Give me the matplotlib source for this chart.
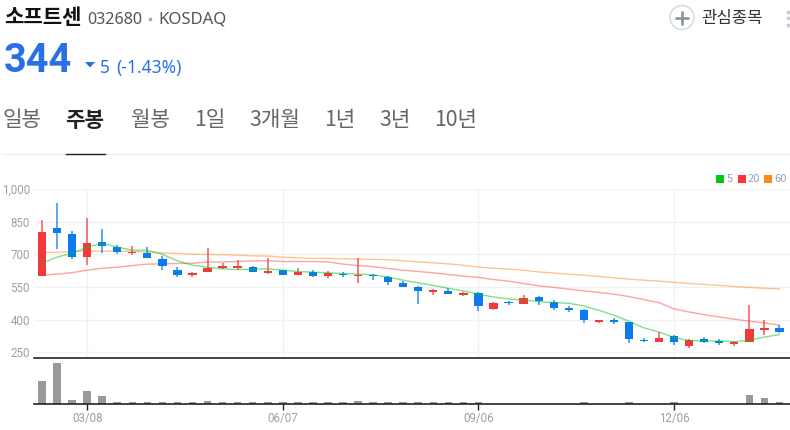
# weekly candle chart with header
import numpy as np
import matplotlib
matplotlib.use('Agg')
import matplotlib.pyplot as plt
from matplotlib.patches import Circle

plt.rcParams['font.family'] = ['Noto Sans CJK KR', 'DejaVu Sans']

open_p = [600,819,793,688,756,732,707,705,680,630,606,617,638,638,640,615,628,607,621,601,610,600,607,598,569,549,529,531,515,523,
          449,481,472,506,483,452,446,391,400,388,308,299,327,278,310,304,288,299,353,362]
close_p = [802,796,688,750,737,709,711,684,645,607,612,636,645,645,617,622,607,621,600,615,606,604,601,571,551,531,535,518,521,462,
           475,477,498,485,454,445,399,397,388,311,301,316,295,308,299,293,297,359,360,344]
high_p = [857,937,806,868,816,745,737,732,693,640,621,730,658,676,645,684,630,636,627,622,618,684,610,600,577,554,540,546,528,528,
          480,485,515,508,492,461,448,400,408,390,316,345,330,312,319,310,300,466,400,377]
low_p = [600,724,680,650,707,700,697,684,630,596,596,617,632,630,617,609,604,606,596,590,596,569,584,560,551,471,514,518,507,438,
         443,468,470,468,446,433,385,385,379,291,296,299,284,268,293,282,278,295,331,340]

ma5 = [659,687,705,733,751,733,719,718,700,670,650,641,633,630,632,633,627,621,618,615,612,609,606,596,581,569,557,544,532,517,
       504,495,490,483,478,475,463,443,420,393,362,343,318,304,302,302,299,305,320,331]
ma20 = [604,609,616,627,636,641,648,655,656,658,659,664,665,667,670,670,667,667,667,665,655,648,643,635,627,621,615,607,600,594,
        584,577,566,555,548,540,532,525,517,506,492,478,449,435,423,412,402,393,385,374]
ma60 = [709,709,712,715,715,715,713,710,707,704,700,700,698,696,693,692,687,684,681,681,679,678,677,675,670,665,661,656,650,641,
        636,632,627,619,614,609,604,598,592,586,581,577,571,566,561,557,552,548,544,541]

volume = [23,41,4.5,13,8,2.5,2.5,2.5,2,2,2,3.5,2,2,2,2.5,2,2,2,2,2,3.5,2,2.5,2,2,2,2,2,2,
          0,0,0,0,0,0,2,0,0,2,0,0,2,0,0,0,0,9,6,2.5]

price_ticks = [250,400,550,700,850,1000]
price_labels = ['250','400','550','700','850','1,000']
date_pos = [3,16,29,42]
date_labels = ['03/08','06/07','09/06','12/06']

tabs = ['일봉','주봉','월봉','1일','3개월','1년','3년','10년']
tab_x = [2.5,65.5,131,194,249,324,379,434.5]

RED = '#f23a3a'
BLUE = '#0a7cf0'
GREY = '#9aa0a8'

fig = plt.figure(figsize=(7.9,4.3), dpi=100)
W, H = 790.0, 430.0

# price panel
ax = fig.add_axes([34/W, 1-357.5/H, (W-34)/W, (357.5-189)/H])
x = np.arange(len(open_p))
for i in x:
    up = close_p[i] >= open_p[i]
    c = RED if up else BLUE
    ax.vlines(i, low_p[i], high_p[i], color=c, lw=1.1, zorder=3, alpha=0.85)
    ax.bar(i, abs(close_p[i]-open_p[i]), bottom=min(open_p[i],close_p[i]), width=0.55, color=c, zorder=3)
ax.plot(x, ma5, color='#00c416', lw=1, alpha=0.5, zorder=4)
ax.plot(x, ma20, color='#ff3333', lw=1, alpha=0.45, zorder=2)
ax.plot(x, ma60, color='#ff8a1a', lw=1, alpha=0.5, zorder=2)
ax.set_xlim(-0.53,49.7)
ax.set_ylim(226,1000)
ax.set_yticks(price_ticks)
ax.set_yticklabels(price_labels, color=GREY, fontsize=8.3, family=['Roboto','DejaVu Sans'])
ax.set_xticks(date_pos)
ax.set_xticklabels([])
ax.tick_params(length=0, pad=3)
ax.grid(True, color='#f0f1f3', lw=1)
ax.set_axisbelow(True)
for s in ax.spines.values():
    s.set_visible(False)
ax.spines['bottom'].set_visible(True)
ax.spines['bottom'].set_color('#222222')
ax.spines['bottom'].set_linewidth(1.2)

# volume panel
vax = fig.add_axes([34/W, 1-404/H, (W-34)/W, (404-357.5)/H])
vax.bar(x, volume, width=0.5, color='#999999')
vax.set_xlim(-0.53,49.7)
vax.set_ylim(0,46.5)
vax.set_yticks([])
vax.set_xticks(date_pos)
vax.set_xticklabels(date_labels, color=GREY, fontsize=8.3, family=['Roboto','DejaVu Sans'])
vax.tick_params(axis='x', length=4, width=1, color='#222222', pad=2)
vax.patch.set_alpha(0)
for s in ['top','left','right']:
    vax.spines[s].set_visible(False)
vax.spines['bottom'].set_color('#222222')
vax.spines['bottom'].set_linewidth(1.2)

# header drawn on an overlay in pixel coords
top = fig.add_axes([0,0,1,1])
top.set_xlim(0,W)
top.set_ylim(H,0)
top.axis('off')
top.patch.set_alpha(0)

top.text(4,18,'소프트센',fontsize=15.2,fontweight='bold',color='#111111',va='center')
top.text(87,20,'032680',fontsize=11.6,color='#555555',va='center',family=['Noto Sans','DejaVu Sans'])
top.plot([150],[19],marker='s',ms=2,color='#aaaaaa')
top.text(158,20,'KOSDAQ',fontsize=12,color='#555555',va='center',family=['Noto Sans','DejaVu Sans'])
top.text(4,61,'344',fontsize=28.5,fontweight='bold',color='#2a6fe8',va='center',family=['Roboto','DejaVu Sans'])
top.fill([85,95,90],[62,62,67.5],color='#2a6fe8',lw=0)
top.text(100,68,'5',fontsize=12.5,color='#2a6fe8',va='center',family=['Noto Sans','DejaVu Sans'])
top.text(116.5,68,'(-1.43%)',fontsize=12.5,color='#2a6fe8',va='center',family=['Noto Sans','DejaVu Sans'])

top.add_patch(Circle((682,17.5),12,fc='white',ec='#d8dce2',lw=1.2))
top.plot([682],[17.5],marker='+',ms=10,mew=2,color='#8f96a0')
top.text(701,18,'관심종목',fontsize=12,color='#333333',va='center')
top.plot([788,788,788],[12,18,25],ls='',marker='o',ms=2.8,color='#c8ccd2',mew=0)

for t, tx in zip(tabs, tab_x):
    active = t == '주봉'
    top.text(tx,120.5,t,fontsize=15.3,va='center',color='#222222' if active else '#666666',
             fontweight='bold' if active else 'normal')
top.plot([2,W],[153.5,153.5],color='#eeeeee',lw=1)
top.plot([66,105],[153.5,153.5],color='#222222',lw=1)

# ma legend
top.plot([720],[179],marker='s',ms=5.5,color='#00c416',mew=0)
top.text(727,179,'5',fontsize=8,color=GREY,va='center')
top.plot([742],[179],marker='s',ms=5.5,color='#ff3333',mew=0)
top.text(748,179,'20',fontsize=8,color=GREY,va='center')
top.plot([768],[179],marker='s',ms=5.5,color='#ff8a1a',mew=0)
top.text(774,179,'60',fontsize=8,color=GREY,va='center')

fig.savefig('out.png', dpi=100)
